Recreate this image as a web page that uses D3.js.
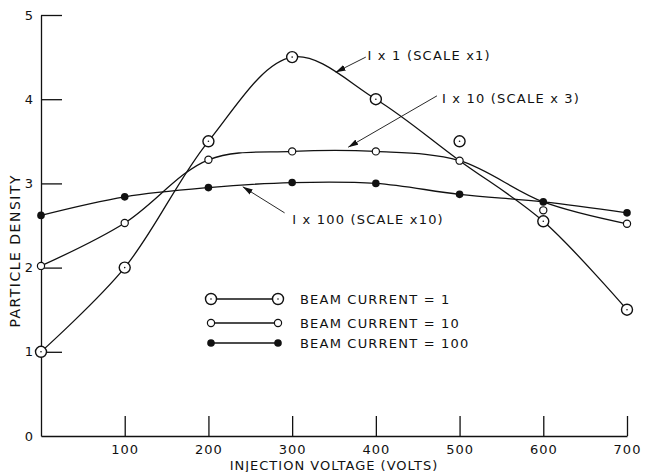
<!DOCTYPE html>
<html>
<head>
<meta charset="utf-8">
<script src="https://cdn.jsdelivr.net/npm/d3@7"></script>
<style>
  body { margin: 0; background: #fff; }
  svg { display: block; }
  text { font-family: "DejaVu Sans", "Liberation Sans", sans-serif; fill: #111; }
  .axis path, .axis line { stroke: #111; stroke-width: 1.3; }
  .axis text { font-size: 13px; letter-spacing: 1px; }
</style>
</head>
<body>
<svg width="645" height="472"></svg>
<script>
// injection voltage (volts)
var voltages = [0, 100, 200, 300, 400, 500, 600, 700];

// measured points
var beam1 = [1.0, 2.0, 3.5, 4.5, 4.0, 3.5, 2.55, 1.5];
var beam10 = [2.02, 2.53, 3.28, 3.38, 3.38, 3.27, 2.68, 2.52];
var beam100 = [2.62, 2.84, 2.95, 3.01, 3.0, 2.87, 2.78, 2.65];

// hand drawn curves (differ from the points where the curve misses a point)
var curve1 = [1.0, 2.0, 3.5, 4.5, 4.0, 3.27, 2.55, 1.5];
var curve10 = [2.02, 2.53, 3.28, 3.38, 3.38, 3.27, 2.78, 2.52];
var curve100 = [2.62, 2.84, 2.95, 3.01, 3.0, 2.87, 2.78, 2.65];

var xTicks = [100, 200, 300, 400, 500, 600, 700];
var yTicks = [0, 1, 2, 3, 4, 5];

// annotation arrows, in data units: tip, tail, label start
var notes = [
    {label: "I x 1 (SCALE x1)", tip: [352, 4.32], tail: [388, 4.5], text: [390, 4.47]},
    {label: "I x 10 (SCALE x 3)", tip: [367, 3.43], tail: [473, 4.04], text: [479, 3.96]},
    {label: "I x 100 (SCALE x10)", tip: [241, 2.96], tail: [291, 2.65], text: [300, 2.52]}
];

var legendLabels = ["BEAM CURRENT = 1", "BEAM CURRENT = 10", "BEAM CURRENT = 100"];

var svg = d3.select("svg"),
    margin = {top: 15, right: 18, bottom: 36, left: 41},
    width = +svg.attr("width") - margin.left - margin.right,
    height = +svg.attr("height") - margin.top - margin.bottom;

var x = d3.scaleLinear().domain([0, 700]).range([0, width]),
    y = d3.scaleLinear().domain([0, 5]).range([height, 0]);

var defs = svg.append("defs");
defs.append("marker")
    .attr("id", "arrow")
    .attr("viewBox", "0 0 10 6")
    .attr("refX", 10).attr("refY", 3)
    .attr("markerWidth", 10).attr("markerHeight", 6)
    .attr("markerUnits", "userSpaceOnUse")
    .attr("orient", "auto")
  .append("path")
    .attr("d", "M0,0L10,3L0,6Z")
    .attr("fill", "#111");

var g = svg.append("g")
    .attr("transform", "translate(" + margin.left + "," + margin.top + ")");

g.append("g")
    .attr("class", "axis axis--x")
    .attr("transform", "translate(0," + height + ")")
    .call(d3.axisBottom(x).tickValues(xTicks).tickSize(-20).tickSizeOuter(0).tickPadding(9));

g.append("g")
    .attr("class", "axis axis--y")
    .call(d3.axisLeft(y).tickValues(yTicks).tickFormat(d3.format("d")).tickSize(-21).tickSizeOuter(0).tickPadding(7));

g.selectAll(".axis text").attr("font-size", 14);
g.select(".axis--y").selectAll(".tick").filter(function(d) { return d === 0; }).select("line").remove();

g.append("text")
    .attr("x", width / 2)
    .attr("y", height + 34)
    .attr("text-anchor", "middle")
    .attr("font-size", 13)
    .attr("letter-spacing", 1)
    .text("INJECTION VOLTAGE (VOLTS)");

g.append("text")
    .attr("transform", "translate(-21," + (y(2.2)) + ") rotate(-90)")
    .attr("text-anchor", "middle")
    .attr("font-size", 14)
    .attr("letter-spacing", 1.5)
    .text("PARTICLE DENSITY");

var line = d3.line()
    .x(function(d, i) { return x(voltages[i]); })
    .y(function(d) { return y(d); })
    .curve(d3.curveCatmullRom.alpha(0.5));

[curve1, curve10, curve100].forEach(function(c) {
    g.append("path")
        .datum(c)
        .attr("d", line)
        .attr("fill", "none")
        .attr("stroke", "#111")
        .attr("stroke-width", 1.3);
});

function drawMarker(sel, kind) {
    if (kind === 0) {
        sel.append("circle").attr("r", 5.5).attr("fill", "#fff").attr("stroke", "#111").attr("stroke-width", 1.4);
        sel.append("circle").attr("r", 0.8).attr("fill", "#111");
    } else if (kind === 1) {
        sel.append("circle").attr("r", 3.6).attr("fill", "#fff").attr("stroke", "#111").attr("stroke-width", 1.2);
    } else {
        sel.append("circle").attr("r", 3.8).attr("fill", "#111");
    }
}

[beam1, beam10, beam100].forEach(function(s, k) {
    g.selectAll(".pt" + k)
        .data(s)
        .enter().append("g")
            .attr("class", "pt" + k)
            .attr("transform", function(d, i) { return "translate(" + x(voltages[i]) + "," + y(d) + ")"; })
            .each(function() { drawMarker(d3.select(this), k); });
});

notes.forEach(function(n) {
    g.append("line")
        .attr("x1", x(n.tail[0])).attr("y1", y(n.tail[1]))
        .attr("x2", x(n.tip[0])).attr("y2", y(n.tip[1]))
        .attr("stroke", "#111")
        .attr("stroke-width", 0.9)
        .attr("marker-end", "url(#arrow)");
    g.append("text")
        .attr("x", x(n.text[0]))
        .attr("y", y(n.text[1]))
        .attr("font-size", 13)
        .attr("letter-spacing", 1.2)
        .text(n.label);
});

// legend
var legend = g.append("g").attr("transform", "translate(" + (211 - margin.left) + "," + (299 - margin.top) + ")");
var rowY = [0, 24, 44];
legendLabels.forEach(function(lbl, k) {
    var row = legend.append("g").attr("transform", "translate(0," + rowY[k] + ")");
    row.append("line").attr("x1", 0).attr("x2", 67).attr("stroke", "#111").attr("stroke-width", 1.3);
    drawMarker(row.append("g"), k);
    drawMarker(row.append("g").attr("transform", "translate(67,0)"), k);
    row.append("text")
        .attr("x", 89)
        .attr("dy", "0.36em")
        .attr("font-size", 13)
        .attr("letter-spacing", 1.2)
        .text(lbl);
});
</script>
</body>
</html>
